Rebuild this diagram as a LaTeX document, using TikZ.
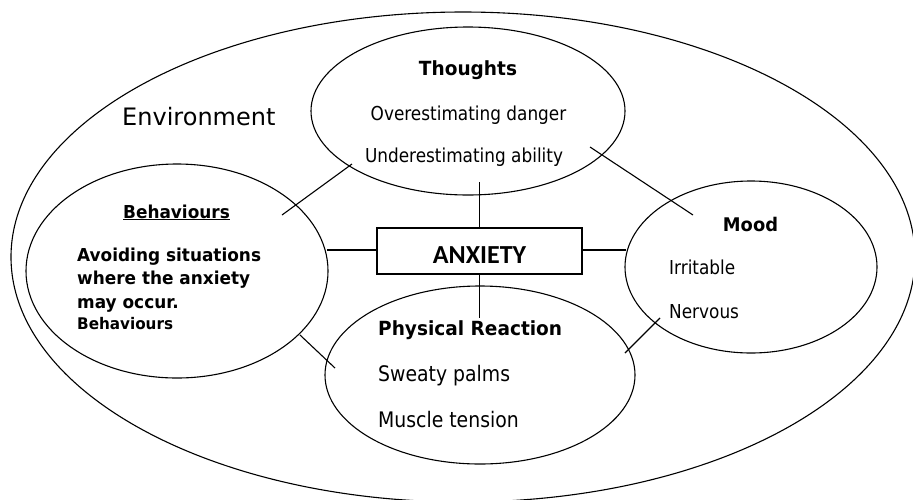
\documentclass[tikz,border=0pt]{standalone}
\usepackage{fontspec}
\setmainfont{DejaVu Sans}
\newfontfamily\tahr[FakeStretch=0.88]{DejaVu Sans}
\newfontfamily\tahb[FakeStretch=0.95]{DejaVu Sans}
\newfontfamily\calb{Carlito}
\usetikzlibrary{shapes.geometric}
\tikzset{
  bubble/.style={draw, ellipse, inner sep=0pt, line width=1.1pt},
  link/.style={draw, line width=1.1pt},
  ltxt/.style={inner sep=0pt, anchor=base west},
  ctxt/.style={inner sep=0pt, anchor=base},
  regA/.style={font=\tahr\fontsize{19.2}{23}\selectfont},
  regB/.style={font=\tahr\fontsize{21.4}{25}\selectfont},
  boldA/.style={font=\tahb\bfseries\fontsize{19.5}{23}\selectfont},
  boldB/.style={font=\tahb\bfseries\fontsize{17.8}{21}\selectfont},
}
\begin{document}
\begin{tikzpicture}[x=1pt,y=-1pt]
\useasboundingbox (0,0) rectangle (913,499);
% outer environment
\node[bubble, minimum width=904pt, minimum height=490pt] (env) at (463,257) {};
% inner ellipses
\node[bubble, minimum width=314pt, minimum height=168pt] (thoughts) at (468,111) {};
\node[bubble, minimum width=302pt, minimum height=214pt] (behav) at (177,271) {};
\node[bubble, minimum width=252pt, minimum height=172pt] (mood) at (751,267) {};
\node[bubble, minimum width=310pt, minimum height=178pt] (phys) at (480,375) {};
% central box
\node[draw, line width=1.1pt, inner sep=0pt, minimum width=205pt, minimum height=46pt,
      text height=24pt, text depth=0pt, font=\calb\bfseries\fontsize{26}{30}\selectfont]
      (box) at (479.5,251) {ANXIETY};
% connector ends
\coordinate (tv) at (479.5,182);
\coordinate (pv) at (479.5,318);
\coordinate (bh) at (327,250);
\coordinate (mh) at (626,250);
\coordinate (tb1) at (352,164); \coordinate (tb2) at (282,215);
\coordinate (tm1) at (590,147); \coordinate (tm2) at (693,215);
\coordinate (bp1) at (300,335); \coordinate (bp2) at (335,368);
\coordinate (mp1) at (660,318); \coordinate (mp2) at (625,353);
\draw[link] (tv) -- (box.north);
\draw[link] (box.south) -- (pv);
\draw[link] (bh) -- (box.west |- bh);
\draw[link] (box.east |- mh) -- (mh);
\draw[link] (tb1) -- (tb2);
\draw[link] (tm1) -- (tm2);
\draw[link] (bp1) -- (bp2);
\draw[link] (mp1) -- (mp2);
% texts
\node[ltxt, font=\fontsize{24}{28}\selectfont] (envlab) at (122,125) {Environment};
\node[ctxt, boldA] (thhead) at (468,75) {Thoughts};
\node[ctxt, regA] (th1) at (468.5,120.5) {Overestimating danger};
\node[ctxt, regA] (th2) at (464,162) {Underestimating ability};
\node[ctxt, boldB] (bhhead) at (176.5,218) {\underline{Behaviours}};
\node[ltxt, boldB] (bh1) at (77,261) {Avoiding situations};
\node[ltxt, boldB] (bh2) at (77,284.5) {where the anxiety};
\node[ltxt, boldB] (bh3) at (77,308) {may occur.};
\node[ltxt, font=\tahb\bfseries\fontsize{16}{19}\selectfont] (bh4) at (77,329) {Behaviours};
\node[ctxt, font=\tahb\bfseries\fontsize{18.8}{22}\selectfont] (mdhead) at (750.5,231) {Mood};
\node[ltxt, regA] (md1) at (669,274) {Irritable};
\node[ltxt, regA] (md2) at (669,318) {Nervous};
\node[ltxt, boldA] (phhead) at (378,335) {Physical Reaction};
\node[ltxt, regB] (ph1) at (378,381) {Sweaty palms};
\node[ltxt, regB] (ph2) at (378,427) {Muscle tension};
\end{tikzpicture}
\end{document}
